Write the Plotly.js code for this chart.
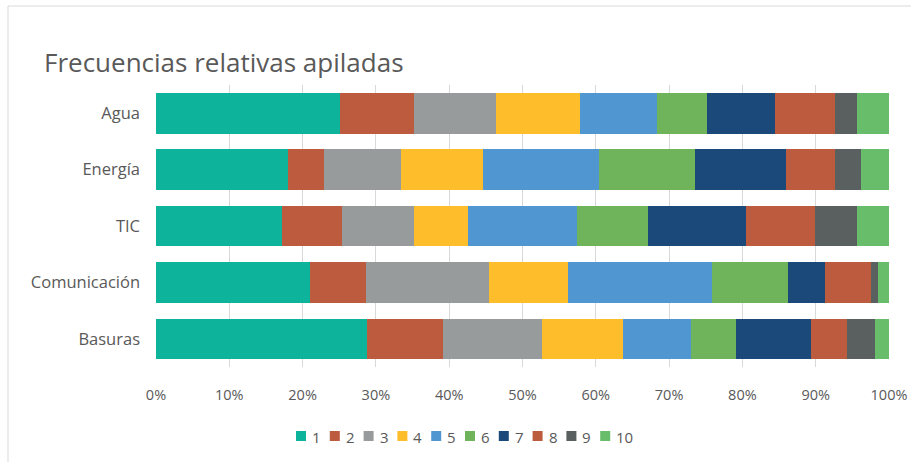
<!DOCTYPE html>
<html>
<head>
<meta charset="utf-8">
<script src="https://cdn.plot.ly/plotly-3.0.1.min.js"></script>
<style>
html,body{margin:0;padding:0;background:#fff;}
#chart{width:911px;height:462px;}
</style>
</head>
<body>
<div id="chart"></div>
<script>
// Categories listed bottom-to-top (Plotly draws first category at bottom)
var categories = ["Basuras", "Comunicación", "TIC", "Energía", "Agua"];
var seriesNames = ["1", "2", "3", "4", "5", "6", "7", "8", "9", "10"];
// Percentages per series, order matches categories above
var s1  = [28.8, 21.0, 17.2, 18.0, 25.1];
var s2  = [10.4, 7.6, 8.2, 4.9, 10.1];
var s3  = [13.5, 16.8, 9.8, 10.5, 11.2];
var s4  = [11.0, 10.8, 7.3, 11.2, 11.5];
var s5  = [9.3, 19.6, 15.0, 15.8, 10.5];
var s6  = [6.1, 10.4, 9.6, 13.1, 6.8];
var s7  = [10.3, 5.1, 13.4, 12.4, 9.3];
var s8  = [4.9, 6.2, 9.4, 6.7, 8.1];
var s9  = [3.8, 1.0, 5.7, 3.6, 3.0];
var s10 = [1.9, 1.5, 4.4, 3.8, 4.4];
var seriesValues = [s1, s2, s3, s4, s5, s6, s7, s8, s9, s10];
var colors = ["#0DB39B", "#BD5B3E", "#989B9B", "#FEBE2B", "#5097D1", "#6FB35A", "#1B4A7A", "#BD5B3E", "#5A5F5F", "#67BD69"];
var tickVals = [0, 10, 20, 30, 40, 50, 60, 70, 80, 90, 100];
var tickText = ["0%", "10%", "20%", "30%", "40%", "50%", "60%", "70%", "80%", "90%", "100%"];

var traces = seriesNames.map(function (name, i) {
  return {
    type: "bar",
    orientation: "h",
    name: name,
    y: categories,
    x: seriesValues[i],
    marker: {color: colors[i], line: {width: 0}},
    hoverinfo: "x+y+name"
  };
});

var W = 911, H = 462, L = 156, R = 22, T = 85, B = 95;
var pw = W - L - R, ph = H - T - B;
function px(x) { return (x - L) / pw; }
function py(y) { return (H - B - y) / ph; }

var shapes = [
  {type: "line", xref: "paper", yref: "paper", x0: px(8), x1: px(911), y0: py(6), y1: py(6), line: {color: "#D9D9D9", width: 1}},
  {type: "line", xref: "paper", yref: "paper", x0: px(8), x1: px(8), y0: py(6), y1: py(462), line: {color: "#D9D9D9", width: 1}}
];
var annotations = [];

// Compact legend (Excel style): small square + label, evenly pitched
var legX0 = 296, legPitch = 33.8, legY = 436, sq = 10;
seriesNames.forEach(function (name, i) {
  var x = legX0 + legPitch * i;
  shapes.push({
    type: "rect", xref: "paper", yref: "paper",
    x0: px(x), x1: px(x + sq), y0: py(legY + sq / 2), y1: py(legY - sq / 2),
    fillcolor: colors[i], line: {width: 0}
  });
  annotations.push({
    xref: "paper", yref: "paper", x: px(x + sq + 4), y: py(legY + 0.5),
    xanchor: "left", yanchor: "middle", showarrow: false,
    text: name, font: {size: 15, color: "#595959"}
  });
});

var layout = {
  width: W, height: H,
  margin: {l: L, r: R, t: T, b: B, pad: 0},
  paper_bgcolor: "#ffffff",
  plot_bgcolor: "#ffffff",
  barmode: "stack",
  bargap: 0.28,
  font: {family: "Open Sans, sans-serif", color: "#595959", size: 14},
  title: {
    text: "Frecuencias relativas apiladas",
    font: {family: "Open Sans, sans-serif", size: 26, color: "#595959"},
    x: 44 / W, xanchor: "left", xref: "container",
    y: 1 - 63 / H, yanchor: "middle", yref: "container"
  },
  xaxis: {
    range: [0, 100],
    tickvals: tickVals,
    ticktext: tickText,
    showgrid: true,
    gridcolor: "#D9D9D9",
    gridwidth: 1,
    zeroline: false,
    showline: false,
    ticks: "",
    ticklabelstandoff: 17,
    tickfont: {size: 14.5, color: "#595959"},
    fixedrange: true
  },
  yaxis: {
    showgrid: false,
    zeroline: false,
    showline: false,
    ticks: "",
    ticklabelstandoff: 15,
    tickfont: {size: 16.5, color: "#595959"},
    fixedrange: true
  },
  showlegend: false,
  shapes: shapes,
  annotations: annotations
};

Plotly.newPlot("chart", traces, layout, {displayModeBar: false, staticPlot: true});
</script>
</body>
</html>
